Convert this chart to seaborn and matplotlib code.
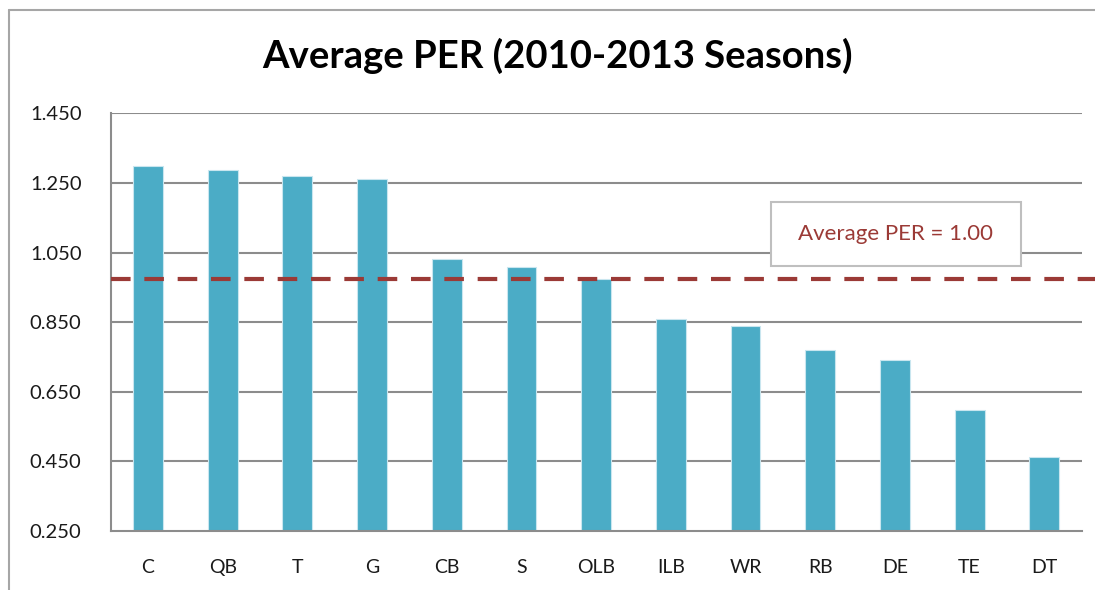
import numpy as np
import pandas as pd
import matplotlib
matplotlib.use("Agg")
import matplotlib.pyplot as plt
import seaborn as sns
from matplotlib.patches import Rectangle
from matplotlib.lines import Line2D

positions = ["C", "QB", "T", "G", "CB", "S", "OLB", "ILB", "WR", "RB", "DE", "TE", "DT"]
avg_per = [1.299, 1.288, 1.271, 1.261, 1.030, 1.009, 0.973, 0.860, 0.839, 0.769, 0.742, 0.598, 0.463]
ref_line = 0.973
ref_label = "Average PER = 1.00"
yticks = [0.25, 0.45, 0.65, 0.85, 1.05, 1.25, 1.45]

df = pd.DataFrame({"pos": positions, "per": avg_per})

sns.set_style("white")
plt.rcParams["font.family"] = ["Lato", "DejaVu Sans"]

bar_color = "#4BACC6"
grid_color = "#8C8C8C"
red = "#9B3A36"

fig = plt.figure(figsize=(10.95, 5.9), dpi=100)
ax = fig.add_axes([0.1011, 0.1, 0.8867, 0.708])

sns.barplot(data=df, x="pos", y="per", color=bar_color, width=0.4,
            saturation=1, edgecolor="#C9E6EF", linewidth=0.8, ax=ax)

ax.set_xlim(-0.5, len(positions) - 0.5)
ax.set_ylim(0.25, 1.45)
ax.set_yticks(yticks)
ax.set_yticklabels([f"{t:.3f}" for t in yticks])
ax.set_xlabel("")
ax.set_ylabel("")

for t in yticks[1:]:
    ax.axhline(t, color=grid_color, lw=1.5, zorder=0)

for s in ["top", "right"]:
    ax.spines[s].set_visible(False)
for s in ["left", "bottom"]:
    ax.spines[s].set_color(grid_color)
    ax.spines[s].set_linewidth(1.5)

ax.tick_params(axis="x", which="major", length=0, pad=20, labelsize=14, labelcolor="#1a1a1a")
ax.set_xticks(np.arange(-0.5, len(positions)), minor=True)
ax.tick_params(axis="x", which="minor", length=6, width=1.5, color=grid_color, direction="out")
ax.tick_params(axis="y", length=6, width=1.5, color=grid_color, pad=15, labelsize=14.5, labelcolor="#1a1a1a")

# reference dashed line, running past the right edge of the plot
ax.plot([0, 1.02], [ref_line, ref_line], transform=ax.get_yaxis_transform(),
        color=red, lw=3, ls=(0, (4.7, 3.3)), clip_on=False, zorder=3)

# label box
ax.add_patch(Rectangle((8.34, 1.011), 3.35, 0.184, facecolor="white",
                       edgecolor="#BFBFBF", lw=1.5, zorder=4))
ax.text(10.01, 1.103, ref_label, ha="center", va="center", color=red,
        fontsize=16, zorder=5)

fig.suptitle("Average PER (2010-2013 Seasons)", x=0.509, y=0.905, va="center",
             fontsize=27.5, fontweight="bold", color="black")

# chart frame edges
fig.add_artist(Line2D([0.0082, 0.0082], [0, 0.983], color="#A6A6A6", lw=1.5))
fig.add_artist(Line2D([0.0082, 1], [0.983, 0.983], color="#A6A6A6", lw=1.5))

fig.savefig("out.png", dpi=100)
